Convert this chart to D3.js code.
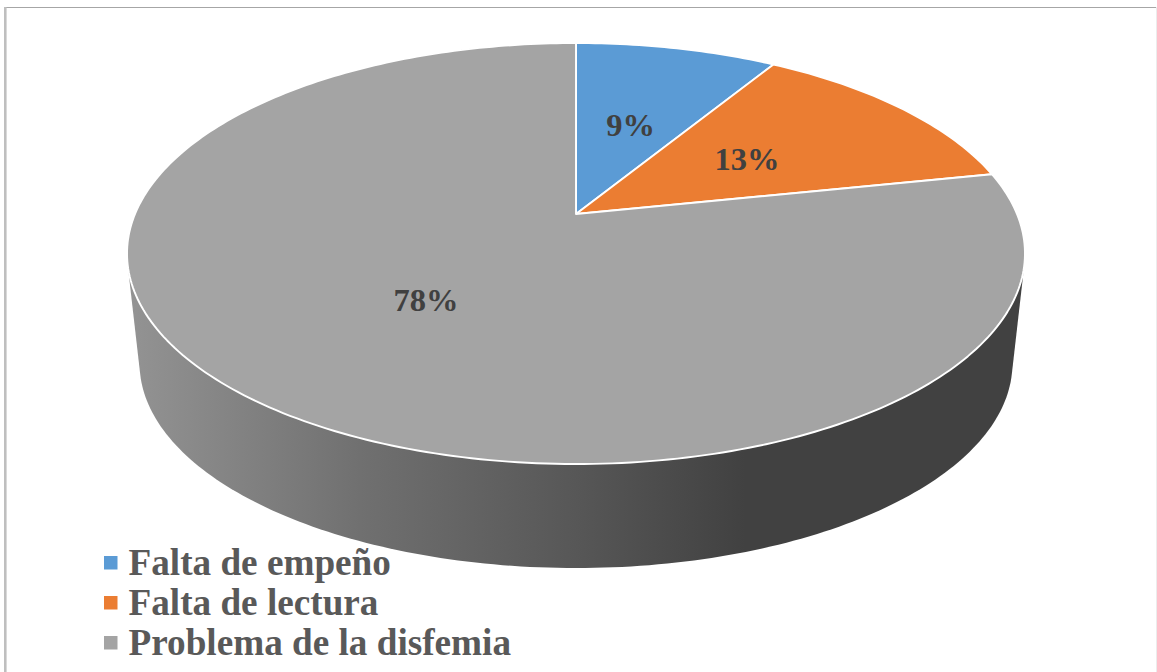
<!DOCTYPE html>
<html>
<head>
<meta charset="utf-8">
<style>html,body{margin:0;padding:0;background:#fff;overflow:hidden}svg{display:block}</style>
<script src="https://cdnjs.cloudflare.com/ajax/libs/d3/7.8.5/d3.min.js"></script>
</head>
<body>
<script>
const categories = ["Falta de empeño", "Falta de lectura", "Problema de la disfemia"];
const counts = [2, 3, 18];
const colors = ["#5B9BD5", "#EB7D32", "#A4A4A4"];

const W = 1157, H = 672;
const svg = d3.select("body").append("svg").attr("width", W).attr("height", H);

// Perspective projection of the pie disc
const apex = {x: 576, y: 214};
const P = 0.1877, A = 203.1, B = 441;
const bottomScale = 0.972, bottomDrop = 111;

function project(angle, r = 1, scale = 1, drop = 0) {
  const u = r * Math.sin(angle), v = r * Math.cos(angle);
  const d = 1 + P * v;
  return [apex.x + scale * B * u / d, apex.y + drop - scale * A * v / d];
}
const line = d3.line();
const TAU = Math.PI * 2;
const ring = (scale, drop) => d3.range(0, 360).map(i => project(i / 360 * TAU, 1, scale, drop));

// Gradient of the side wall
const defs = svg.append("defs");
const grad = defs.append("linearGradient").attr("id", "wall")
  .attr("gradientUnits", "userSpaceOnUse")
  .attr("x1", 130).attr("x2", 1022).attr("y1", 0).attr("y2", 0);
[[0, "#939393"], [0.258, "#707070"], [0.5, "#575757"], [0.69, "#414141"], [1, "#414141"]]
  .forEach(([o, c]) => grad.append("stop").attr("offset", o).attr("stop-color", c));

// Frame
svg.append("line").attr("x1", 4).attr("x2", W).attr("y1", 7.5).attr("y2", 7.5)
  .attr("stroke", "#a6a6a6").attr("stroke-width", 1.2);
svg.append("line").attr("x1", 5.3).attr("x2", 5.3).attr("y1", 7).attr("y2", H)
  .attr("stroke", "#bfbfbf").attr("stroke-width", 2.6);
svg.append("line").attr("x1", 1156.5).attr("x2", 1156.5).attr("y1", 7).attr("y2", H)
  .attr("stroke", "#ececec").attr("stroke-width", 1);

// Side wall: hull of the upper and lower rims
const hull = d3.polygonHull(ring(1, 0).concat(ring(bottomScale, bottomDrop)));
svg.append("path").attr("d", line(hull) + "Z").attr("fill", "url(#wall)");

// Slices
const arcs = d3.pie().sort(null).value(d => d)(counts);
svg.append("g").selectAll("path").data(arcs).join("path")
  .attr("d", d => {
    const n = Math.ceil((d.endAngle - d.startAngle) / TAU * 360);
    const pts = d3.range(n + 1).map(i => project(d.startAngle + (d.endAngle - d.startAngle) * i / n));
    return line([[apex.x, apex.y], ...pts]) + "Z";
  })
  .attr("fill", (d, i) => colors[i])
  .attr("stroke", "#fff").attr("stroke-width", 1.9).attr("stroke-linejoin", "round");

// Data labels
const pct = d3.format(".0%");
const total = d3.sum(counts);
svg.append("g").selectAll("text").data(arcs).join("text")
  .attr("transform", d => {
    const [x, y] = project((d.startAngle + d.endAngle) / 2, 0.5);
    return `translate(${x},${y})`;
  })
  .attr("dy", "0.36em")
  .attr("text-anchor", "middle")
  .attr("font-family", "'Liberation Serif', serif")
  .attr("font-weight", "bold").attr("font-size", 32.5)
  .attr("fill", "#404040")
  .text(d => pct(d.value / total));

// Legend
const legendY = d3.scalePoint().domain(categories).range([575, 655]);
const legend = svg.append("g").selectAll("g").data(categories).join("g")
  .attr("transform", d => `translate(0,${legendY(d)})`);
legend.append("rect").attr("x", 104).attr("y", -19).attr("width", 13.5).attr("height", 13.5)
  .attr("fill", (d, i) => colors[i]);
legend.append("text").attr("x", 128.5).attr("y", 0)
  .attr("font-family", "'Liberation Serif', serif")
  .attr("font-weight", "bold").attr("font-size", 37.2)
  .attr("fill", "#595959")
  .text(d => d);
</script>
</body>
</html>
